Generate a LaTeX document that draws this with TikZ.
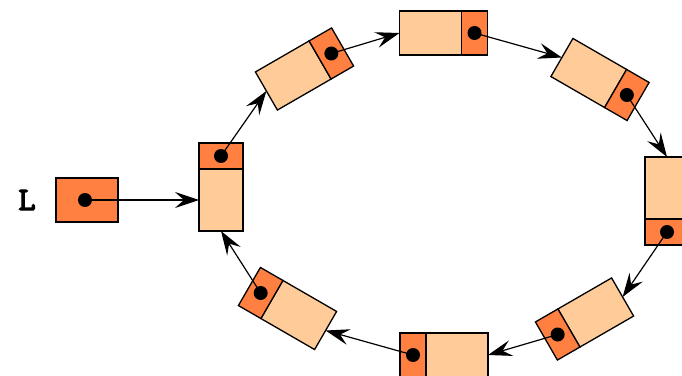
\documentclass[tikz,border=0pt]{standalone}
\usepackage{fontspec}
\newfontfamily\Lfont{lmmono10-regular}[Extension=.otf, AutoFakeBold=3.5]
\usetikzlibrary{arrows.meta,calc}
\definecolor{dataC}{HTML}{FFCC99}
\definecolor{ptrC}{HTML}{FF8040}
\newcommand\listelem[4]{%
  \node[datapart, rotate=#4] (d#1) at ($(#2,#3)+(#4:-13)$) {};
  \node[ptrpart, rotate=#4] (p#1) at ($(#2,#3)+(#4:31)$) {};
}
\begin{document}
\begin{tikzpicture}[x=1pt,y=1pt,
  datapart/.style={draw, line width=1.3pt, fill=dataC, minimum width=62pt, minimum height=44pt, inner sep=0pt, outer sep=0pt},
  ptrpart/.style={draw, line width=1.3pt, fill=ptrC, minimum width=26pt, minimum height=44pt, inner sep=0pt, outer sep=0pt},
  ptrdot/.style={circle, fill=black, minimum size=14pt, inner sep=0pt},
  linkarrow/.style={line width=1.2pt, -{Stealth[length=24pt,width=16pt,inset=9pt]}}
]
\useasboundingbox (0,0) rectangle (682,375);
\clip (0,0) rectangle (682,375);

\listelem{1}{221}{188}{90}
\listelem{2}{304.5}{306}{30}
\listelem{3}{443.5}{342}{0}
\listelem{4}{600}{295.5}{-30}
\listelem{5}{667}{174}{-90}
\listelem{6}{584.5}{56}{210}
\listelem{7}{444}{20}{180}
\listelem{8}{287.5}{66.5}{150}

\node[draw, line width=1.3pt, fill=ptrC, minimum width=62pt, minimum height=44pt, inner sep=0pt] (Lbox) at (87,175) {};
\coordinate (Lp) at (85,175);
\node[font=\Lfont\bfseries\fontsize{33}{36}\selectfont] (Llabel) at (27,175) {L};

\draw[linkarrow] (Lp) -- (d1);
\draw[linkarrow] (p1.center) -- (d2.west);
\draw[linkarrow] (p2.center) -- (d3.west);
\draw[linkarrow] (p3.center) -- (d4.west);
\draw[linkarrow] (p4.center) -- (d5.west);
\draw[linkarrow] (p5.center) -- (d6.west);
\draw[linkarrow] (p6.center) -- (d7.west);
\draw[linkarrow] (p7.center) -- (d8.west);
\draw[linkarrow] (p8.center) -- (d1.west);

\node[ptrdot] (kL) at (Lp) {};
\foreach \i in {1,...,8} { \node[ptrdot] (k\i) at (p\i.center) {}; }
\end{tikzpicture}
\end{document}
